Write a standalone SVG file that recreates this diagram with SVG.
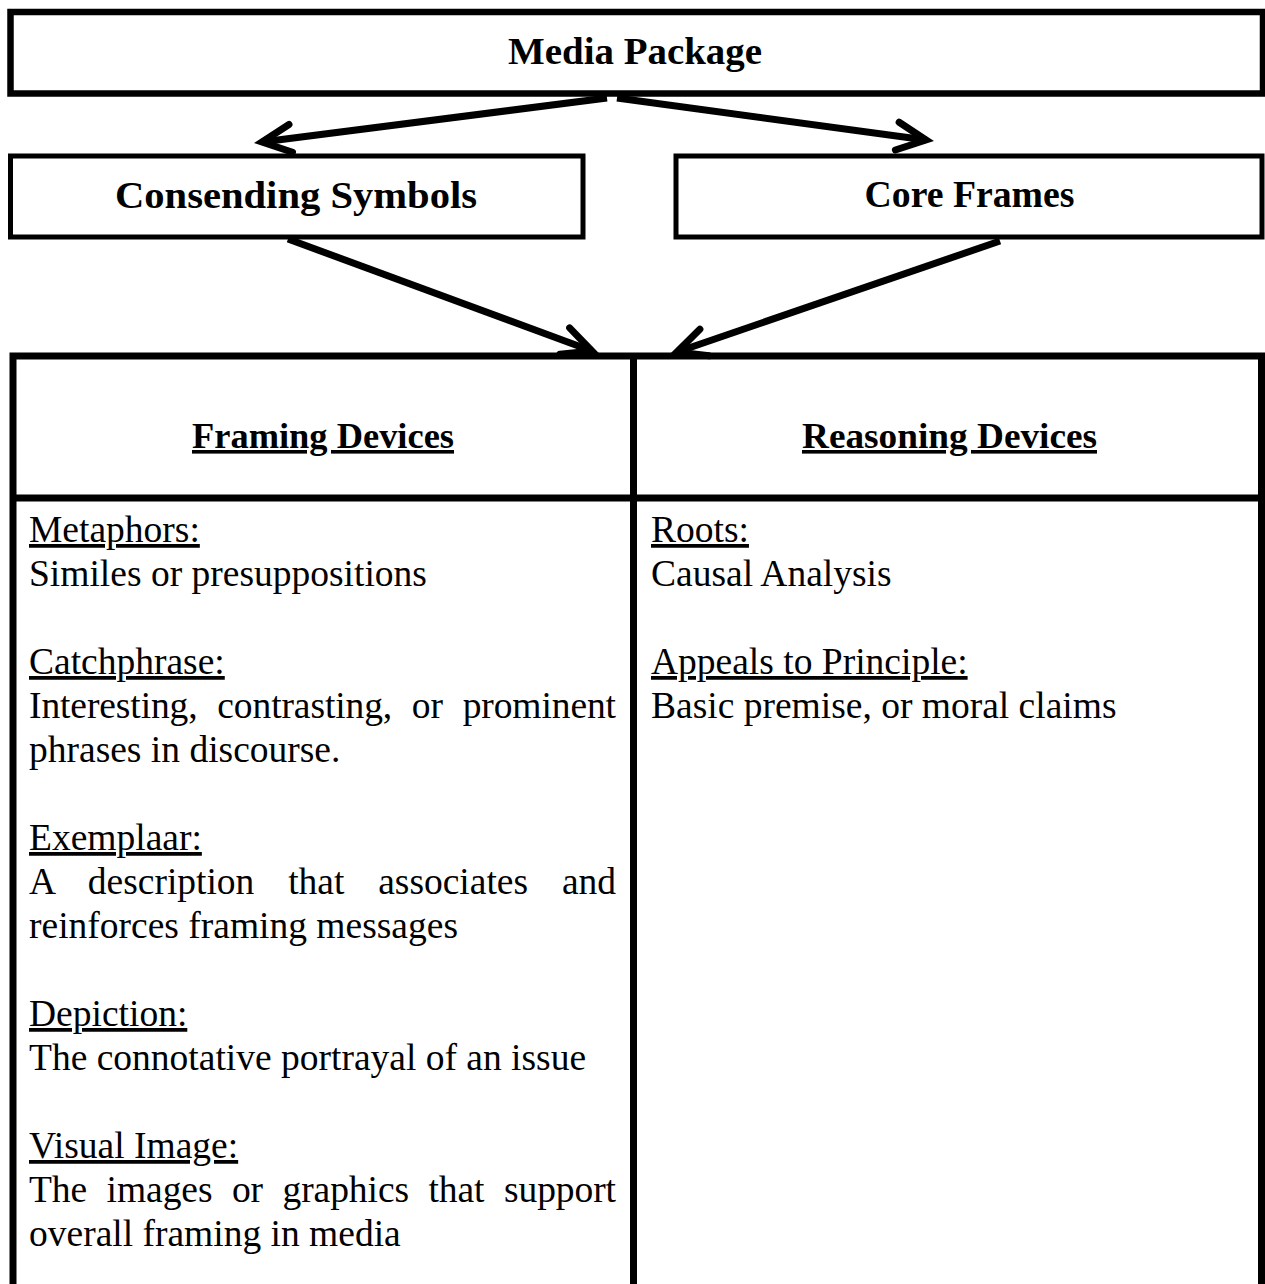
<svg xmlns="http://www.w3.org/2000/svg" width="1265" height="1284" viewBox="0 0 1265 1284">
<defs>
<style>
.box{fill:#fff;stroke:#000}
.title{font-family:"Liberation Serif","Times New Roman",serif;font-weight:bold;font-size:38px;text-anchor:middle;fill:#000}
.head{font-family:"Liberation Serif","Times New Roman",serif;font-weight:bold;font-size:36px;text-anchor:middle;text-decoration:underline;fill:#000}
.body{font-family:"Liberation Serif","Times New Roman",serif;font-size:37.5px;fill:#000}
.lbl{text-decoration:underline}
.conn{stroke:#000;stroke-width:7;fill:none;marker-end:url(#ah)}
.rule{stroke:#000;stroke-width:7}
</style>
<marker id="ah" markerUnits="userSpaceOnUse" viewBox="-40 -20 52 40" markerWidth="52" markerHeight="40" refX="0" refY="0" orient="auto">
<path d="M-29,-14 L0,0 L-29,14" fill="none" stroke="#000" stroke-width="7" stroke-linecap="round" stroke-linejoin="miter"/>
</marker>
</defs>
<rect width="1265" height="1284" fill="#fff"/>

<g id="media-package">
<rect class="box" x="10.5" y="12" width="1252.5" height="81.5" stroke-width="6.5"/>
<text class="title" x="635" y="64" textLength="254" lengthAdjust="spacingAndGlyphs">Media Package</text>
</g>

<g id="consending-symbols">
<rect class="box" x="10.5" y="156" width="572.5" height="81" stroke-width="5"/>
<text class="title" x="296" y="208" textLength="362" lengthAdjust="spacingAndGlyphs">Consending Symbols</text>
</g>

<g id="core-frames">
<rect class="box" x="676" y="156" width="586" height="81" stroke-width="5"/>
<text class="title" x="969.5" y="207" textLength="210" lengthAdjust="spacingAndGlyphs">Core Frames</text>
</g>

<g id="devices-table">
<rect class="box" x="13" y="356" width="1248.5" height="1000" stroke-width="7"/>
<line class="rule" x1="633.5" y1="356" x2="633.5" y2="1290"/>
<line class="rule" x1="13" y1="498" x2="1261.5" y2="498"/>
</g>

<g id="framing-devices">
<text class="head" x="323" y="448" textLength="262" lengthAdjust="spacingAndGlyphs">Framing Devices</text>
<text class="body lbl" x="29" y="542">Metaphors:</text>
<text class="body" x="29" y="586">Similes or presuppositions</text>
<text class="body lbl" x="29" y="674">Catchphrase:</text>
<text class="body" x="29" y="718" word-spacing="10.5" textLength="587" lengthAdjust="spacing">Interesting, contrasting, or prominent</text>
<text class="body" x="29" y="762">phrases in discourse.</text>
<text class="body lbl" x="29" y="850">Exemplaar:</text>
<text class="body" x="29" y="894" word-spacing="24.5" textLength="587" lengthAdjust="spacing">A description that associates and</text>
<text class="body" x="29" y="938">reinforces framing messages</text>
<text class="body lbl" x="29" y="1026">Depiction:</text>
<text class="body" x="29" y="1070">The connotative portrayal of an issue</text>
<text class="body lbl" x="29" y="1158">Visual Image:</text>
<text class="body" x="29" y="1202" word-spacing="10.2" textLength="587" lengthAdjust="spacing">The images or graphics that support</text>
<text class="body" x="29" y="1246">overall framing in media</text>
</g>

<g id="reasoning-devices">
<text class="head" x="949.5" y="448" textLength="295" lengthAdjust="spacingAndGlyphs">Reasoning Devices</text>
<text class="body lbl" x="651" y="542">Roots:</text>
<text class="body" x="651" y="586">Causal Analysis</text>
<text class="body lbl" x="651" y="674">Appeals to Principle:</text>
<text class="body" x="651" y="718">Basic premise, or moral claims</text>
</g>

<g id="connectors">
<line class="conn" x1="607" y1="98" x2="262" y2="142"/>
<line class="conn" x1="617" y1="98" x2="926" y2="140"/>
<line class="conn" x1="288" y1="239" x2="592" y2="351"/>
<line class="conn" x1="1000" y1="241" x2="677" y2="352"/>
</g>
</svg>
